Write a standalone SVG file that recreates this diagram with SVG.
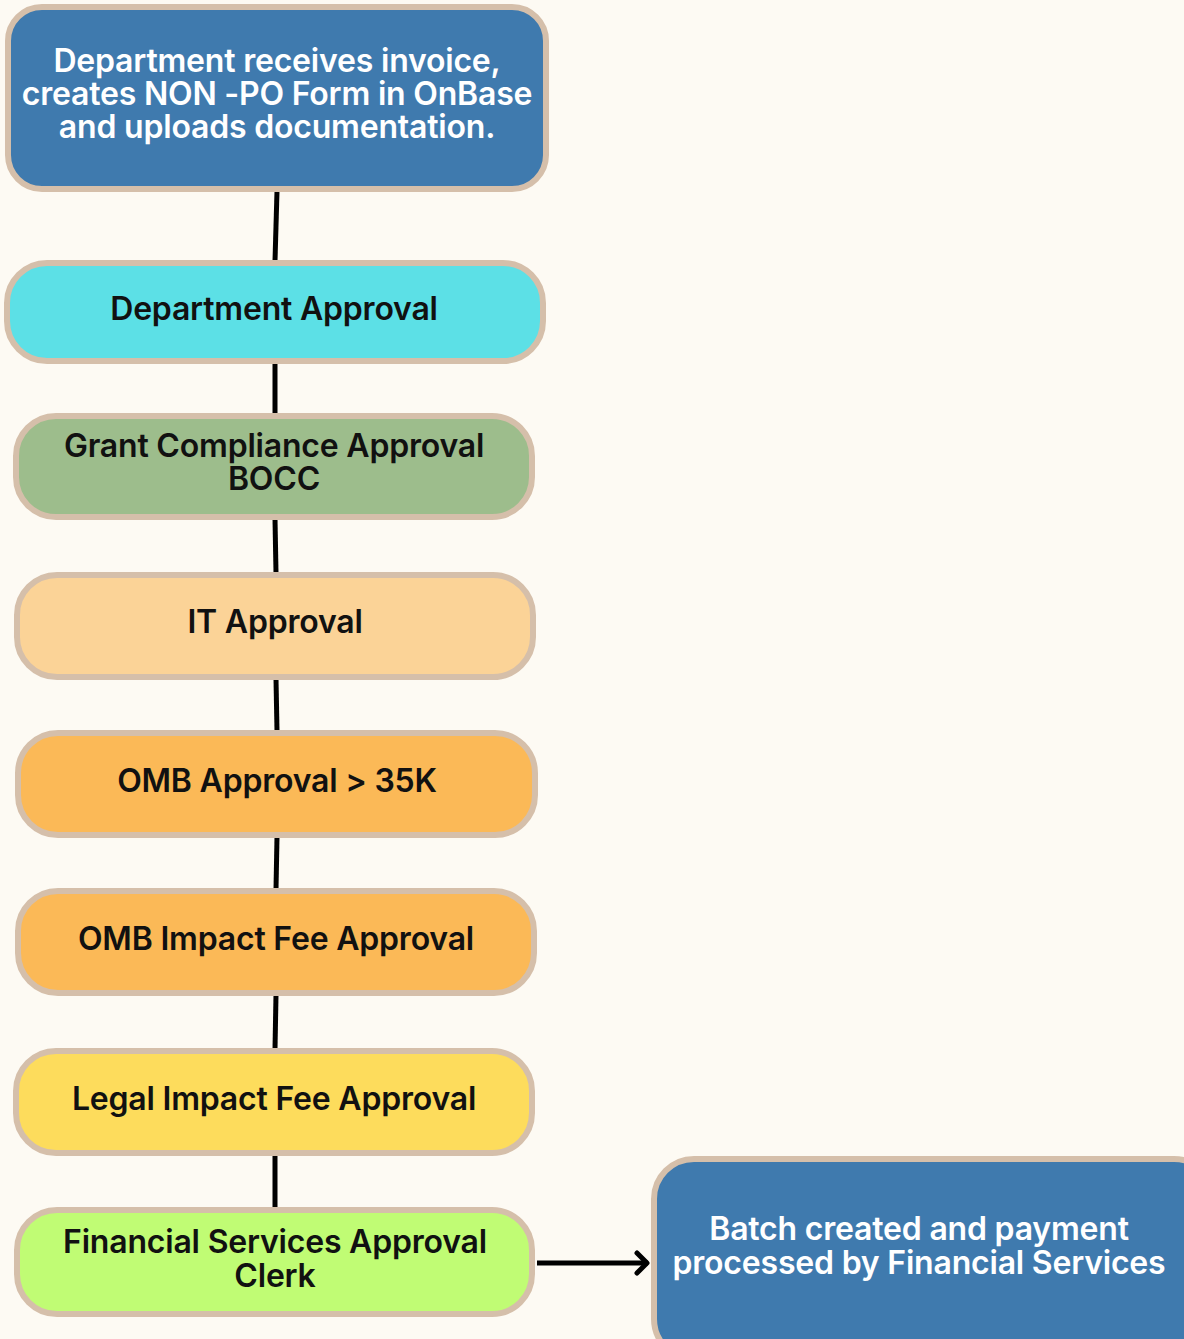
<svg xmlns="http://www.w3.org/2000/svg" width="1184" height="1339" viewBox="0 0 1184 1339">
<defs>
<style>
.n{stroke:#d5bfaa;stroke-width:6}
.t{font-family:Inter,"Liberation Sans",sans-serif;font-weight:600;font-size:32px;text-anchor:middle;fill:#111;letter-spacing:-0.2px}
.w{fill:#fff}
.c{stroke:#000;stroke-width:5;fill:none}
</style>
<marker id="ah" viewBox="0 0 16 26" refX="14" refY="13" markerWidth="16" markerHeight="26" markerUnits="userSpaceOnUse" orient="auto">
<path d="M3,3 L13,13 L3,23" fill="none" stroke="#000" stroke-width="5" stroke-linecap="round" stroke-linejoin="round"/>
</marker>
</defs>
<rect width="1184" height="1339" fill="#fdfaf3"/>
<g id="connectors">
<line class="c" x1="277" y1="191" x2="275" y2="261"/>
<line class="c" x1="275" y1="363" x2="275" y2="414"/>
<line class="c" x1="275" y1="519" x2="276" y2="573"/>
<line class="c" x1="276" y1="679" x2="277" y2="731"/>
<line class="c" x1="277" y1="837" x2="276" y2="889"/>
<line class="c" x1="276" y1="995" x2="275" y2="1049"/>
<line class="c" x1="275" y1="1155" x2="275" y2="1208"/>
<line class="c" x1="537" y1="1263" x2="648" y2="1263" marker-end="url(#ah)"/>
</g>
<g id="n1">
<rect class="n" x="8" y="7" width="538" height="182" rx="34" fill="#3f7aae"/>
<text class="t w" x="277" y="72">Department receives invoice,</text>
<text class="t w" x="277" y="105">creates NON -PO Form in OnBase</text>
<text class="t w" x="277" y="138">and uploads documentation.</text>
</g>
<g id="n2">
<rect class="n" x="7" y="263" width="536" height="98" rx="40" fill="#5ce0e6"/>
<text class="t" x="274" y="320">Department Approval</text>
</g>
<g id="n3">
<rect class="n" x="16" y="416" width="516" height="101" rx="40" fill="#9dbd8c"/>
<text class="t" x="274" y="457">Grant Compliance Approval</text>
<text class="t" x="274" y="490">BOCC</text>
</g>
<g id="n4">
<rect class="n" x="17" y="575" width="516" height="102" rx="40" fill="#fbd397"/>
<text class="t" x="275" y="633">IT Approval</text>
</g>
<g id="n5">
<rect class="n" x="18" y="733" width="517" height="102" rx="40" fill="#fbb957"/>
<text class="t" x="277" y="792">OMB Approval &gt; 35K</text>
</g>
<g id="n6">
<rect class="n" x="18" y="891" width="516" height="102" rx="40" fill="#fbb957"/>
<text class="t" x="276" y="950">OMB Impact Fee Approval</text>
</g>
<g id="n7">
<rect class="n" x="16" y="1051" width="516" height="102" rx="40" fill="#fddc5c"/>
<text class="t" x="274" y="1110">Legal Impact Fee Approval</text>
</g>
<g id="n8">
<rect class="n" x="17" y="1210" width="515" height="104" rx="40" fill="#c0fc74"/>
<text class="t" x="275" y="1253">Financial Services Approval</text>
<text class="t" x="275" y="1287">Clerk</text>
</g>
<g id="n9">
<rect class="n" x="654" y="1159" width="560" height="200" rx="40" fill="#3f7aae"/>
<text class="t w" x="919" y="1240">Batch created and payment</text>
<text class="t w" x="919" y="1274">processed by Financial Services</text>
</g>
</svg>
